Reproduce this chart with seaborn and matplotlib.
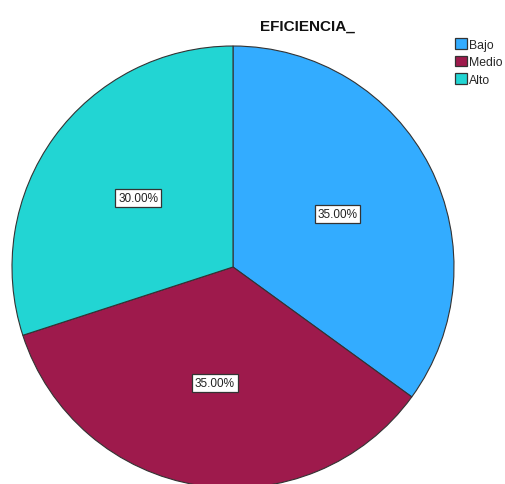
import matplotlib
matplotlib.use("Agg")
import matplotlib.pyplot as plt
import seaborn as sns
from matplotlib.patches import Patch

categories = ["Bajo", "Medio", "Alto"]
values = [35.0, 35.0, 30.0]
colors = ["#33acff", "#9e1a4c", "#22d5d3"]
title = "EFICIENCIA_"

sns.set_theme(style="white")
plt.rcParams['font.family'] = ['Liberation Sans', 'DejaVu Sans']

W, H = 506, 485
fig = plt.figure(figsize=(W / 100, H / 100), dpi=100)
cx, cy, r = 233, 268, 221
ax = fig.add_axes([(cx - r) / W, (H - cy - r) / H, 2 * r / W, 2 * r / H])

wedges, texts, autotexts = ax.pie(
    values, colors=colors, startangle=90, counterclock=False, radius=1,
    autopct="%.2f%%", pctdistance=0.53,
    wedgeprops=dict(edgecolor="#333333", linewidth=0.8),
    textprops=dict(fontsize=8.5, color="#222222"),
)
for t in autotexts:
    t.set_bbox(dict(facecolor="white", edgecolor="#333333", linewidth=0.9, pad=2.0))
ax.set_xlim(-1, 1)
ax.set_ylim(-1, 1)
ax.set_aspect("equal")
ax.axis("off")

fig.text(307 / W, 1 - 27 / H, title, ha="center", va="center", fontsize=11, fontweight="bold", color="#111111")

handles = [Patch(facecolor=c, edgecolor="#333333", linewidth=0.9) for c in colors]
fig.legend(handles, categories, loc="upper left", bbox_to_anchor=(455 / W, 1 - 39 / H),
           frameon=False, fontsize=8.8, handlelength=1.0, handleheight=1.0,
           handletextpad=0.15, labelspacing=0.4, borderpad=0.0, borderaxespad=0.0)

fig.savefig("out.png", dpi=100, facecolor="white")
